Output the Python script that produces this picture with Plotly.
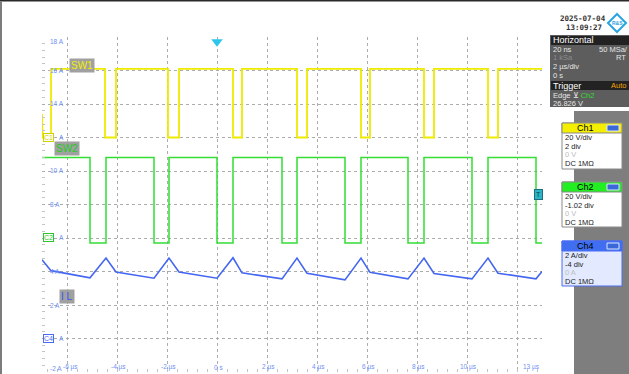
import plotly.graph_objects as go

# ---------------- data ----------------
# SW1 (Ch1, yellow): mostly high, short low pulses. Edge times in µs, levels in screen-A units
sw1_fall = [-4.48, -1.96, 0.64, 3.20, 5.76, 8.28, 10.84]
sw1_rise = [-6.64, -4.04, -1.52, 1.00, 3.60, 6.12, 8.68, 11.24]
sw1_high = 16.1
sw1_low = 12.0
sw1_start = 13.4

# SW2 (Ch2, green)
sw2_fall = [-5.08, -2.52, 0.00, 2.60, 5.12, 7.64, 10.20, 12.76]
sw2_rise = [-4.44, -1.92, 0.64, 3.20, 5.76, 8.28, 10.84]
sw2_high = 10.8
sw2_low = 5.7

# IL (Ch4, blue) inductor current, breakpoints
il_t = [-7.00, -6.64, -5.08, -4.44, -4.04, -2.52, -1.92, -1.52, 0.00, 0.64, 1.00,
        2.60, 3.20, 3.60, 5.12, 5.76, 6.12, 7.64, 8.28, 8.68, 10.20, 10.84, 11.24,
        12.76, 13.00]
il_v = [4.70, 4.05, 3.62, 4.80, 3.97, 3.60, 4.80, 3.97, 3.60, 4.82, 3.92,
        3.56, 4.80, 3.90, 3.50, 4.80, 3.95, 3.56, 4.80, 3.88, 3.56, 4.80, 3.90,
        3.56, 4.00]

x_tick_vals = [-6, -4, -2, 0, 2, 4, 6, 8, 10, 13]
x_tick_text = ["-6 µs", "-4 µs", "-2 µs", "0 s", "2 µs", "4 µs", "6 µs", "8 µs", "10 µs", "13 µs"]
y_tick_vals = [18, 16, 14, 12, 10, 8, 6, 4, 2, 0, -2]
y_tick_text = ["18 A", "16 A", "14 A", "A", "10 A", "8 A", "A", "4 A", "2 A", "A", "-2 A"]

T0, T1 = -7.0, 13.0
Y0, Y1 = -2.0, 18.0

W, H = 629, 374


def P(x):
    return x / W


def Q(y):
    return 1 - y / H


def step_wave(falls, rises, high, low, level, pre=None):
    events = sorted([(t, low) for t in falls] + [(t, high) for t in rises])
    xs, ys = [T0], [level if pre is None else pre]
    if pre is not None:
        xs.append(T0 + 0.03)
        ys.append(level)
    cur = level
    for t, lvl in events:
        xs += [t, t]
        ys += [cur, lvl]
        cur = lvl
    xs.append(T1)
    ys.append(cur)
    return xs, ys


x1, y1 = step_wave(sw1_fall, sw1_rise, sw1_high, sw1_low, sw1_low, pre=sw1_start)
x2, y2 = step_wave(sw2_fall, sw2_rise, sw2_high, sw2_low, sw2_high)

fig = go.Figure()
fig.add_trace(go.Scatter(x=x1, y=y1, mode="lines", line=dict(color="#eeea00", width=1.8),
                         hoverinfo="skip", showlegend=False))
fig.add_trace(go.Scatter(x=x2, y=y2, mode="lines", line=dict(color="#33dd33", width=1.5),
                         hoverinfo="skip", showlegend=False))
fig.add_trace(go.Scatter(x=il_t, y=il_v, mode="lines", line=dict(color="#4466f0", width=1.6),
                         hoverinfo="skip", showlegend=False))
# trigger position marker
fig.add_trace(go.Scatter(x=[0], y=[17.72], mode="markers",
                         marker=dict(symbol="triangle-down", size=10, color="#2cc6ea"),
                         cliponaxis=False, hoverinfo="skip", showlegend=False))

grid_x = [-7, -6, -4, -2, 0, 2, 4, 6, 8, 10, 12, 13]
fig.update_layout(
    width=W, height=H, margin=dict(l=0, r=0, t=0, b=0),
    paper_bgcolor="white", plot_bgcolor="white",
    xaxis=dict(domain=[P(42), P(542)], range=[T0, T1], tickmode="array", tickvals=grid_x,
               showticklabels=False, showgrid=True, gridcolor="#acacac", griddash="dot",
               gridwidth=1, zeroline=False, showline=False, ticks="",
               minor=dict(ticks="inside", dtick=0.4, tick0=0, ticklen=3, tickcolor="#c4c4c4",
                          showgrid=False),
               mirror="ticks"),
    yaxis=dict(domain=[Q(372), Q(37)], range=[Y0, Y1], tickmode="linear", tick0=0, dtick=2,
               showticklabels=False, showgrid=True, gridcolor="#acacac", griddash="dot",
               gridwidth=1, zeroline=False, showline=False, ticks="",
               minor=dict(ticks="inside", dtick=0.4, tick0=0, ticklen=3, tickcolor="#c4c4c4",
                          showgrid=False),
               mirror="ticks"),
    font=dict(family="Liberation Sans, Arial, sans-serif"),
)

shapes = []
ann = []

# frame decorations
shapes.append(dict(type="rect", xref="paper", yref="paper", x0=0, x1=1, y0=Q(1.5), y1=1,
                   fillcolor="#2a2a2a", line=dict(width=0), layer="above"))
shapes.append(dict(type="rect", xref="paper", yref="paper", x0=0, x1=P(2), y0=0, y1=Q(1.5),
                   fillcolor="#7c7c7c", line=dict(width=0), layer="above"))

# axis labels (inside the grid)
axis_font = dict(size=6.5, color="#6f8ff5", family="Liberation Sans, Arial, sans-serif")
for v, t in zip(y_tick_vals, y_tick_text):
    ys = 0
    if v == Y1:
        ys = -5
    if v == Y0:
        ys = 4
    xpos = P(58) if t == "A" else P(49)
    ann.append(dict(x=xpos, y=v, xref="paper", yref="y", text=t, showarrow=False,
                    xanchor="left", yanchor="middle", yshift=ys, borderpad=0, font=axis_font))
for v, t in zip(x_tick_vals, x_tick_text):
    xs_ = 1
    if v == T1:
        xs_ = -1
    elif v == x_tick_vals[0]:
        xs_ = 3
    ann.append(dict(x=v, y=Q(367), xref="x", yref="paper", text=t, showarrow=False,
                    xanchor="right" if v == T1 else "center", yanchor="middle",
                    xshift=xs_, borderpad=0, font=axis_font))

# channel ground markers
for lvl, lab, col in [(12, "C1", "#d6cf00"), (6, "C2", "#2fc42f"), (0, "C4", "#4a6cf2")]:
    ann.append(dict(x=P(43), y=lvl, xref="paper", yref="y", text=lab, showarrow=False,
                    xanchor="left", yanchor="middle", bgcolor="white", bordercolor=col,
                    borderwidth=1, borderpad=0, font=dict(size=7, color=col)))

# trigger level marker
ann.append(dict(x=P(543), y=Q(194), xref="paper", yref="paper", text="T", showarrow=False,
                xanchor="right", yanchor="middle", bgcolor="#2bb3c6", bordercolor="#1b6f7c",
                borderwidth=1, borderpad=1, font=dict(size=7, color="#0e3f48")))

# trace labels
for xc, yc, txt_, col in [(82, 65.5, "SW1", "#f2ee00"), (67, 148.5, "SW2", "#22cc22"),
                          (66.5, 296.5, "I L", "#3556f0")]:
    ann.append(dict(x=P(xc), y=Q(yc), xref="paper", yref="paper", text=txt_, showarrow=False,
                    xanchor="center", yanchor="middle", bgcolor="#a0a0a0", borderpad=1,
                    font=dict(size=10, color=col)))

# ---------------- right side panel ----------------
shapes.append(dict(type="rect", xref="paper", yref="paper", x0=P(574), x1=1, y0=0, y1=Q(111),
                   fillcolor="#7e7e7e", line=dict(width=0), layer="above"))
# horizontal / trigger box
shapes.append(dict(type="rect", xref="paper", yref="paper", x0=P(550), x1=1, y0=Q(107), y1=Q(35),
                   fillcolor="#5d5d5d", line=dict(width=0), layer="above"))
shapes.append(dict(type="rect", xref="paper", yref="paper", x0=P(551), x1=1, y0=Q(45), y1=Q(36),
                   fillcolor="#222222", line=dict(width=0), layer="above"))
shapes.append(dict(type="rect", xref="paper", yref="paper", x0=P(551), x1=1, y0=Q(90), y1=Q(81),
                   fillcolor="#222222", line=dict(width=0), layer="above"))

pf = "Liberation Sans, Arial, sans-serif"


def txt(x, y, s, col="#e6e6e6", size=7.5, anchor="left"):
    ann.append(dict(x=P(x), y=Q(y), xref="paper", yref="paper", text=s, showarrow=False,
                    xanchor=anchor, yanchor="middle", borderpad=0,
                    font=dict(size=size, color=col, family=pf)))


txt(552, 40, "Horizontal", "#ffffff", 9)
txt(552, 49.5, "20 ns")
txt(629, 49.5, "50 MSa/", anchor="right")
txt(552, 58, "1 kSa", "#8c8c8c")
txt(627, 58, "RT", anchor="right")
txt(552, 66.5, "2 µs/div")
txt(552, 75, "0 s")
txt(552, 85.5, "Trigger", "#ffffff", 9)
txt(627, 85.5, "Auto", "#f0a400", anchor="right")
txt(552, 95, "Edge ⊻ <span style='color:#33dd33'>Ch2</span>")
txt(552, 103.5, "26.826 V")

# date and logo
ann.append(dict(x=P(583), y=Q(18.5), xref="paper", yref="paper", text="<b>2025-07-04</b>",
                showarrow=False, xanchor="center", yanchor="middle", borderpad=0,
                font=dict(size=7.5, color="#333333", family="DejaVu Sans Mono, monospace")))
ann.append(dict(x=P(584), y=Q(27.5), xref="paper", yref="paper", text="<b>13:09:27</b>",
                showarrow=False, xanchor="center", yanchor="middle", borderpad=0,
                font=dict(size=7.5, color="#333333", family="DejaVu Sans Mono, monospace")))
shapes.append(dict(type="path", xref="paper", yref="paper",
                   path=f"M {P(617)} {Q(14)} L {P(626)} {Q(23)} L {P(617)} {Q(32)} L {P(608)} {Q(23)} Z",
                   fillcolor="white", line=dict(color="#2aa3e0", width=2), layer="above"))
ann.append(dict(x=P(617), y=Q(23), xref="paper", yref="paper", text="<b>R&S</b>", showarrow=False,
                xanchor="center", yanchor="middle", font=dict(size=5, color="#2aa3e0")))

# channel boxes
boxes = [
    (123, 169, "Ch1", "#f4ee00", "#000000", "white", "#8a8a8a",
     ["20 V/div", "2 div", "0 V", "DC 1MΩ"]),
    (182, 227, "Ch2", "#22ee22", "#000000", "white", "#8a8a8a",
     ["20 V/div", "-1.02 div", "0 V", "DC 1MΩ"]),
    (241, 286, "Ch4", "#3f6ff0", "#000000", "#e3eaff", "#4a6cf2",
     ["2 A/div", "-4 div", "0 A", "DC 1MΩ"]),
]
for top, bot, name, hcol, htxt, bcol, brd, lines in boxes:
    shapes.append(dict(type="rect", xref="paper", yref="paper", x0=P(562), x1=P(622), y0=Q(bot),
                       y1=Q(top), fillcolor=bcol, line=dict(color=brd, width=1), layer="above"))
    shapes.append(dict(type="rect", xref="paper", yref="paper", x0=P(562), x1=P(622),
                       y0=Q(top + 10), y1=Q(top), fillcolor=hcol, line=dict(color=brd, width=1),
                       layer="above"))
    shapes.append(dict(type="rect", xref="paper", yref="paper", x0=P(607), x1=P(619),
                       y0=Q(top + 8), y1=Q(top + 2), fillcolor="#3a68d8",
                       line=dict(color="#dfe6ff", width=1), layer="above"))
    ann.append(dict(x=P(585), y=Q(top + 5), xref="paper", yref="paper", text=name, showarrow=False,
                    xanchor="center", yanchor="middle", borderpad=0,
                    font=dict(size=9, color=htxt, family=pf)))
    offs = [14.3, 23.0, 31.7, 40.4]
    for i, (o, s) in enumerate(zip(offs, lines)):
        col = "#bdbdbd" if i == 2 else "#222222"
        txt(564, top + o, s, col, 7.5)

fig.update_layout(shapes=shapes, annotations=ann)
fig.write_html("out.html", config={"displayModeBar": False},
               post_script="document.body.style.margin='0';document.body.style.padding='0';"
                           "document.body.style.overflow='hidden';")
